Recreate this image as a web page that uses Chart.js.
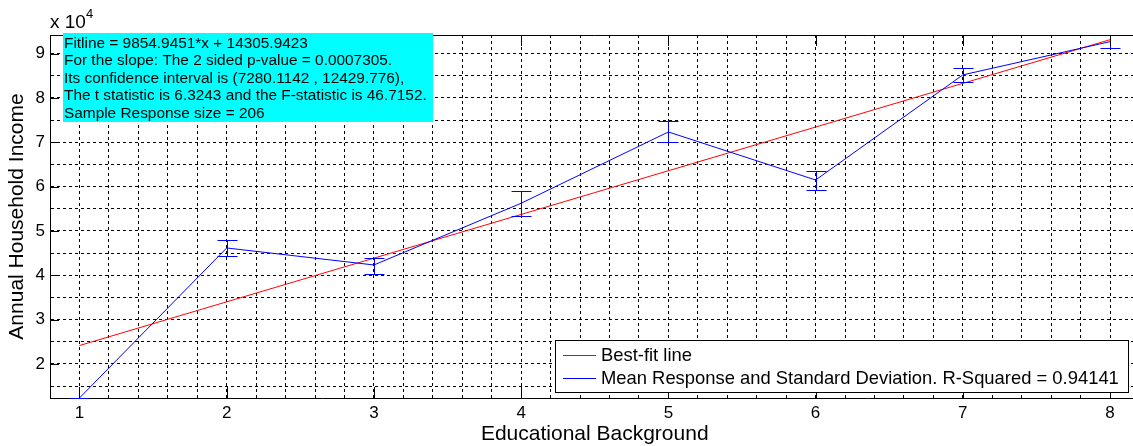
<!DOCTYPE html>
<html>
<head>
<meta charset="utf-8">
<script src="https://cdn.jsdelivr.net/npm/chart.js@4/dist/chart.umd.min.js"></script>
<style>
  html, body { margin: 0; padding: 0; background: #fff; overflow: hidden; }
  #wrap { width: 1145px; height: 446px; position: relative; }
</style>
</head>
<body>
<div id="wrap"><canvas id="incomeChart"></canvas></div>
<script>
// data
const educationLevels = [1, 2, 3, 4, 5, 6, 7, 8];
const meanIncome = [12330, 46170, 42330, 56250, 72330, 61500, 85200, 92700];
const errLow  = [12330, 44360, 40230, 53450, 70150, 59250, 83600, 91350];
const errHigh = [12330, 47970, 43980, 59100, 74800, 63600, 86840, 94150];

// best-fit line end points
const fitX = [1, 8];
const fitValues = [24161, 93145];

const xTickValues = [1, 2, 3, 4, 5, 6, 7, 8];
const xTickLabels = ['1', '2', '3', '4', '5', '6', '7', '8'];
const yTickValues = [20000, 30000, 40000, 50000, 60000, 70000, 80000, 90000];
const yTickLabels = ['2', '3', '4', '5', '6', '7', '8', '9'];
const yGridValues = [15000, 20000, 25000, 30000, 35000, 40000, 45000, 50000, 55000, 60000, 65000, 70000, 75000, 80000, 85000, 90000];

const seriesNames = ['Best-fit line', 'Mean Response and Standard Deviation. R-Squared = 0.94141'];
const annotationLines = [
  'Fitline = 9854.9451*x + 14305.9423',
  'For the slope: The 2 sided p-value = 0.0007305.',
  'Its confidence interval is (7280.1142 , 12429.776),',
  'The t statistic is 6.3243 and the F-statistic is 46.7152.',
  'Sample Response size = 206'
];

const FONT = "'Liberation Sans', Arial, sans-serif";

// x grid every 0.2 between the edges
function xGrid(min, max) {
  const out = [];
  for (let i = Math.round(min * 5); i <= Math.round(max * 5); i++) out.push({ value: i / 5 });
  return out;
}

// matlab-ish decorations: box top, inward ticks, error bars, text box, legend
const matlabBits = {
  id: 'matlabBits',
  afterDatasetsDraw(chart) {
    const { ctx, chartArea: a, scales: { x, y } } = chart;
    ctx.save();

    // error bars
    ctx.beginPath();
    ctx.rect(a.left, a.top - 1, a.right - a.left, a.bottom - a.top + 2);
    ctx.clip();
    ctx.strokeStyle = '#0000ff';
    ctx.lineWidth = 1;
    educationLevels.forEach((lvl, i) => {
      const px = Math.round(x.getPixelForValue(lvl)) + 0.5;
      const lo = Math.round(y.getPixelForValue(errLow[i])) + 0.5;
      const hi = Math.round(y.getPixelForValue(errHigh[i])) + 0.5;
      ctx.beginPath();
      ctx.moveTo(px, lo); ctx.lineTo(px, hi);
      ctx.moveTo(px - 10, lo); ctx.lineTo(px + 10, lo);
      ctx.moveTo(px - 10, hi); ctx.lineTo(px + 10, hi);
      ctx.stroke();
    });
    ctx.restore();

    ctx.save();
    // top border
    ctx.strokeStyle = '#000';
    ctx.lineWidth = 1;
    ctx.beginPath();
    ctx.moveTo(a.left, Math.round(a.top) + 0.5);
    ctx.lineTo(a.right, Math.round(a.top) + 0.5);
    ctx.stroke();

    // inward ticks
    ctx.beginPath();
    xTickValues.forEach(v => {
      const px = Math.round(x.getPixelForValue(v)) + 0.5;
      ctx.moveTo(px, a.bottom); ctx.lineTo(px, a.bottom - 11);
      ctx.moveTo(px, a.top); ctx.lineTo(px, a.top + 11);
    });
    yTickValues.forEach(v => {
      const py = Math.round(y.getPixelForValue(v)) + 0.5;
      ctx.moveTo(a.left, py); ctx.lineTo(a.left + 9, py);
    });
    ctx.stroke();

    // exponent label
    ctx.fillStyle = '#000';
    ctx.textBaseline = 'alphabetic';
    ctx.textAlign = 'left';
    ctx.font = '19px ' + FONT;
    ctx.fillText('x 10', a.left, a.top - 7);
    const w = ctx.measureText('x 10').width;
    ctx.font = '13px ' + FONT;
    ctx.fillText('4', a.left + w, a.top - 17);

    // cyan annotation box
    const bx = a.left + 13, by = a.top - 2;
    ctx.fillStyle = '#00ffff';
    ctx.fillRect(bx, by, 370, 89);
    ctx.fillStyle = '#000';
    ctx.font = '15.4px ' + FONT;
    annotationLines.forEach((t, i) => ctx.fillText(t, bx + 1, by + 14.5 + i * 17.6));

    // legend box
    const lx = 555.5, ly = 340.5, lw = 573, lh = 52;
    ctx.fillStyle = '#fff';
    ctx.fillRect(lx, ly, lw, lh);
    ctx.strokeStyle = '#000';
    ctx.strokeRect(lx, ly, lw, lh);
    const colors = ['#ff0000', '#0000ff'];
    ctx.font = '18.4px ' + FONT;
    ctx.textBaseline = 'middle';
    seriesNames.forEach((name, i) => {
      const ry = Math.round(ly + 14 + i * 23) + 0.5;
      ctx.strokeStyle = colors[i];
      ctx.beginPath();
      ctx.moveTo(563, ry); ctx.lineTo(596, ry);
      ctx.stroke();
      ctx.fillStyle = '#000';
      ctx.fillText(name, 601, ry);
    });
    ctx.restore();
  }
};

const ctx = document.getElementById('incomeChart').getContext('2d');
const incomeChart = new Chart(ctx, {
  type: 'scatter',
  data: {
    datasets: [
      {
        label: seriesNames[1],
        data: educationLevels.map((v, i) => ({ x: v, y: meanIncome[i] })),
        showLine: true,
        borderColor: '#0000ff',
        backgroundColor: '#0000ff',
        borderWidth: 1,
        pointRadius: 0
      },
      {
        label: seriesNames[0],
        data: fitX.map((v, i) => ({ x: v, y: fitValues[i] })),
        showLine: true,
        borderColor: '#ff0000',
        backgroundColor: '#ff0000',
        borderWidth: 1,
        pointRadius: 0
      }
    ]
  },
  options: {
    responsive: true,
    maintainAspectRatio: false,
    animation: false,
    layout: { padding: { top: 35, right: 5.5, bottom: 0, left: 0 } },
    plugins: { legend: { display: false }, tooltip: { enabled: false } },
    scales: {
      x: {
        type: 'linear',
        min: 0.8,
        max: 8.2,
        afterBuildTicks: s => { s.ticks = xGrid(0.8, 8.2); },
        afterFit: s => { s.height = 48; },
        grid: { color: '#000', lineWidth: 1, drawTicks: false },
        border: { color: '#000', width: 1, dash: [3, 3] },
        ticks: {
          autoSkip: false, maxRotation: 0, padding: 5,
          color: '#000', font: { family: FONT, size: 17 },
          callback: v => {
            const k = xTickValues.findIndex(t => Math.abs(t - v) < 1e-6);
            return k >= 0 ? xTickLabels[k] : '';
          }
        },
        title: {
          display: true, text: 'Educational Background', color: '#000',
          font: { family: FONT, size: 21 }, padding: { top: 0, bottom: -1 }
        }
      },
      y: {
        min: 12330,
        max: 94200,
        afterBuildTicks: s => { s.ticks = yGridValues.map(v => ({ value: v })); },
        afterFit: s => { s.width = 50; },
        grid: { color: '#000', lineWidth: 1, drawTicks: false },
        border: { color: '#000', width: 1, dash: [3, 3] },
        ticks: {
          autoSkip: false, padding: 5,
          color: '#000', font: { family: FONT, size: 17 },
          callback: v => {
            const k = yTickValues.indexOf(v);
            return k >= 0 ? yTickLabels[k] : '';
          }
        },
        title: {
          display: true, text: 'Annual Household Income', color: '#000',
          font: { family: FONT, size: 21 }, padding: { top: 4.5, bottom: 0 }
        }
      }
    }
  },
  plugins: [matlabBits]
});
</script>
</body>
</html>
